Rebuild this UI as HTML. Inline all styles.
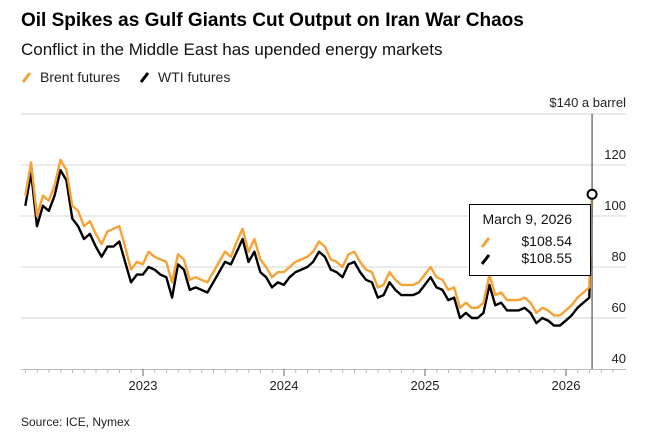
<!DOCTYPE html>
<html><head><meta charset="utf-8">
<style>
body{margin:0;background:#fff;font-family:"Liberation Sans",sans-serif;}
#wrap{position:relative;width:653px;height:443px;overflow:hidden;}
svg text{font-family:"Liberation Sans",sans-serif;}
</style></head>
<body>
<div id="wrap">
<svg id="chart" width="653" height="443">
<text x="21" y="26" font-size="19" font-weight="bold" fill="#000">Oil Spikes as Gulf Giants Cut Output on Iran War Chaos</text>
<text x="21" y="55" font-size="17" fill="#111">Conflict in the Middle East has upended energy markets</text>
<g>
<g>
<line x1="23" y1="82" x2="30" y2="73" stroke="#f7a233" stroke-width="3"/>
<text x="40" y="82" font-size="14" fill="#222">Brent futures</text></g>
<g>
<line x1="141" y1="82" x2="148" y2="73" stroke="#000" stroke-width="3"/>
<text x="158" y="82" font-size="14" fill="#222">WTI futures</text></g>
</g>
<g id="grid"></g>
<g id="xaxis"></g>
<g id="series"></g>
<g id="cursor"></g>
<text x="21" y="426" font-size="12" fill="#222">Source: ICE, Nymex</text>
</svg>
</div>
<script>
const stepYear = 1/24;
const brent = [108,121, 100,108, 106,112, 122,118, 104,102, 96,98, 93,89, 94,95, 96,88, 79,82,
 81,86, 84,83, 82,74, 85,83, 75,76, 75,74, 78,82, 86,84, 90,95, 86,91, 83,80, 76,78,
 78,80, 82,83, 84,86, 90,88, 83,82, 80,85, 86,82, 79,78, 72,73, 78,75, 73,73, 73,74,
 77,80, 76,75, 71,72, 64,66, 64,64, 66,77, 69,70, 67,67, 67,68, 66,62, 64,63, 61,61,
 63,65, 68,70, 72, 108.54];
const wti = [104,117, 96,104, 102,108, 118,114, 99,96, 91,93, 88,84, 88,88, 90,82, 74,77,
 77,80, 79,77, 76,68, 81,79, 71,72, 71,70, 74,78, 82,81, 86,91, 82,86, 78,76, 72,74,
 73,76, 78,79, 80,82, 86,84, 79,78, 76,81, 82,78, 75,74, 68,69, 74,71, 69,69, 69,70,
 73,76, 72,71, 67,68, 60,62, 60,60, 62,73, 65,66, 63,63, 63,64, 62,58, 60,59, 57,57,
 59,61, 64,66, 68, 108.55];
const yTicks = [40,60,80,100,120,140];
const yearLabels = [2023,2024,2025,2026];
const cursorDate = 2026.185;
const tipDate = "March 9, 2026";

const NS="http://www.w3.org/2000/svg";
const x = t => 143 + (t-2023)*141;
const y = v => 369 - (v-40)*2.55;
function mk(tag,attrs,parent){const e=document.createElementNS(NS,tag);for(const k in attrs)e.setAttribute(k,attrs[k]);parent.appendChild(e);return e;}
const grid=document.getElementById('grid');
yTicks.forEach(v=>{
  if(v>40){const l=mk('line',{x1:21,x2:626,y1:y(v),y2:y(v),stroke:'#d4d4d4','stroke-width':1},grid);
  
  }
  const lab = v===140 ? '$140 a barrel' : String(v);
  const t=mk('text',{x:626,y:(v===140?y(v)-7:y(v)-6),'text-anchor':'end','font-size':13,fill:'#222'},grid);
  t.textContent=lab;
  
  
});
const xa=document.getElementById('xaxis');
const base=mk('line',{x1:21,x2:626,y1:369.5,y2:369.5,stroke:'#bbb','stroke-width':1},xa);


for(let m=2;m<=52;m++){const t=2022+m/12; const xx=x(t); if(xx>622)break;
  const major=(m%12===0);
  const tk=mk('line',{x1:xx,x2:xx,y1:369,y2:major?376:373,stroke:major?'#666':'#bbb','stroke-width':1},xa);
  
  }
yearLabels.forEach(yr=>{const t=mk('text',{x:x(yr),y:390,'text-anchor':'middle','font-size':13,fill:'#222'},xa);
  t.textContent=String(yr);
  
  });
const ser=document.getElementById('series');
function path(data,color,name){
  const n=data.length;
  const d=data.map((v,i)=>{const t=(i===n-1)?cursorDate:cursorDate-0.02-(n-2-i)*stepYear;return (i?'L':'M')+x(t).toFixed(1)+','+y(v).toFixed(1);}).join('');
  const p=mk('path',{d:d,fill:'none',stroke:color,'stroke-width':2.4,'stroke-linejoin':'round'},ser);
  
  
}
path(wti,'#000','wti-line');
path(brent,'#f7a233','brent-line');
const cur=document.getElementById('cursor');
const cl=mk('line',{x1:x(cursorDate),x2:x(cursorDate),y1:114,y2:369,stroke:'#777','stroke-width':1.5},cur);


const dot=mk('circle',{cx:x(cursorDate),cy:y(brent[brent.length-1]),r:4.5,fill:'#fff',stroke:'#000','stroke-width':2},cur);


const tip=mk('g',{},cur);


mk('rect',{x:469.5,y:204.5,width:121,height:71,fill:'#fff',stroke:'#000','stroke-width':1},tip);
const t1=mk('text',{x:572,y:224,'text-anchor':'end','font-size':14,fill:'#111'},tip);t1.textContent=tipDate;
mk('line',{x1:482,y1:247,x2:489,y2:238,stroke:'#f7a233','stroke-width':3},tip);
const t2=mk('text',{x:572,y:246,'text-anchor':'end','font-size':14,fill:'#111'},tip);t2.textContent='$'+brent[brent.length-1].toFixed(2);
mk('line',{x1:482,y1:264,x2:489,y2:255,stroke:'#000','stroke-width':3},tip);
const t3=mk('text',{x:572,y:263,'text-anchor':'end','font-size':14,fill:'#111'},tip);t3.textContent='$'+wti[wti.length-1].toFixed(2);
</script>
</body></html>
